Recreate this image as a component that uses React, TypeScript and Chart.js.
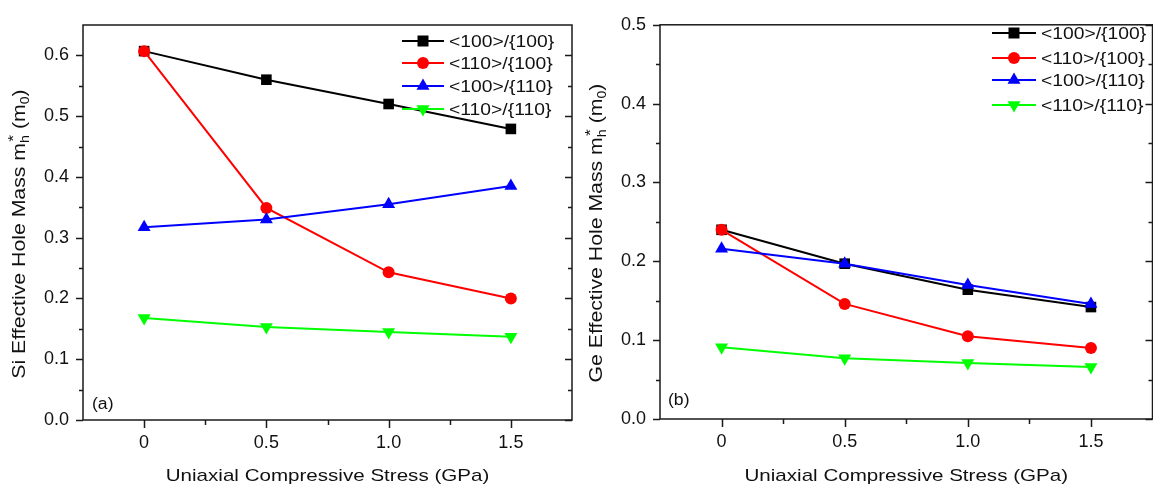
import React, { useEffect, useRef } from "react";
import { Chart, registerables } from "chart.js";

Chart.register(...registerables);

// ---------------- data ----------------
const stressGPa = [0, 0.5, 1.0, 1.5];
const seriesLabels = ["<100>/{100}", "<110>/{100}", "<100>/{110}", "<110>/{110}"];
const seriesColors = ["#000000", "#ff0000", "#0000ff", "#00ff00"];
const seriesMarkers = ["rect", "circle", "triangle", "triangleDown"];

const siMass100on100 = [0.607, 0.56, 0.52, 0.479];
const siMass110on100 = [0.607, 0.349, 0.243, 0.2];
const siMass100on110 = [0.317, 0.33, 0.355, 0.385];
const siMass110on110 = [0.168, 0.153, 0.145, 0.137];

const geMass100on100 = [0.24, 0.197, 0.164, 0.142];
const geMass110on100 = [0.24, 0.146, 0.105, 0.09];
const geMass100on110 = [0.216, 0.197, 0.17, 0.146];
const geMass110on110 = [0.091, 0.077, 0.071, 0.066];

const xTickValues = [0, 0.5, 1.0, 1.5];
const xTickLabels = ["0", "0.5", "1.0", "1.5"];
const xMinorTickValues = [0.25, 0.75, 1.25];
const siYTickValues = [0, 0.1, 0.2, 0.3, 0.4, 0.5, 0.6];
const siYMinorTickValues = [0.05, 0.15, 0.25, 0.35, 0.45, 0.55];
const geYTickValues = [0, 0.1, 0.2, 0.3, 0.4, 0.5];
const geYMinorTickValues = [0.05, 0.15, 0.25, 0.35, 0.45];
const xAxisTitle = "Uniaxial Compressive Stress (GPa)";

// ---------------- layout ----------------
const FONT = "'Liberation Sans', Arial, Helvetica, sans-serif";
const TEXT = "#111111";
const H = 489;

type PanelCfg = {
  canvasLeft: number;
  width: number;
  area: { left: number; top: number; right: number; bottom: number };
  xMin: number;
  xMax: number;
  yMax: number;
  yTicks: number[];
  yMinor: number[];
  series: number[][];
  material: string;
  yTitleX: number;
  yTitleCY: number;
  legend: { x0: number; xm: number; x1: number; tx: number; ys: number[] };
  tag: string;
  tagX: number;
  tagY: number;
  yTickPad: number;
};

const panels: PanelCfg[] = [
  {
    canvasLeft: 0,
    width: 580,
    area: { left: 83, top: 25, right: 572, bottom: 420 },
    xMin: -0.25,
    xMax: 1.75,
    yMax: 0.65,
    yTicks: siYTickValues,
    yMinor: siYMinorTickValues,
    series: [siMass100on100, siMass110on100, siMass100on110, siMass110on110],
    material: "Si",
    yTitleX: 25,
    yTitleCY: 234,
    legend: { x0: 402, xm: 423, x1: 444, tx: 449, ys: [41, 63, 86, 109] },
    tag: "(a)",
    tagX: 92,
    tagY: 409,
    yTickPad: 14,
  },
  {
    canvasLeft: 580,
    width: 580,
    area: { left: 80, top: 19, right: 575, bottom: 419 },
    xMin: -0.25,
    xMax: 1.75,
    yMax: 0.5,
    yTicks: geYTickValues,
    yMinor: geYMinorTickValues,
    series: [geMass100on100, geMass110on100, geMass100on110, geMass110on110],
    material: "Ge",
    yTitleX: 22,
    yTitleCY: 233,
    legend: { x0: 412, xm: 434, x1: 456, tx: 461, ys: [33, 58, 80, 105] },
    tag: "(b)",
    tagX: 88,
    tagY: 405,
    yTickPad: 14,
  },
];

function drawMarker(ctx: CanvasRenderingContext2D, kind: string, x: number, y: number, color: string) {
  ctx.save();
  ctx.fillStyle = color;
  ctx.beginPath();
  if (kind === "rect") {
    ctx.rect(x - 5.5, y - 5.5, 11, 11);
  } else if (kind === "circle") {
    ctx.arc(x, y, 6, 0, Math.PI * 2);
  } else if (kind === "triangle") {
    ctx.moveTo(x, y - 7.5);
    ctx.lineTo(x + 6.5, y + 3.75);
    ctx.lineTo(x - 6.5, y + 3.75);
    ctx.closePath();
  } else {
    ctx.moveTo(x, y + 7.5);
    ctx.lineTo(x + 6.5, y - 3.75);
    ctx.lineTo(x - 6.5, y - 3.75);
    ctx.closePath();
  }
  ctx.fill();
  ctx.restore();
}

// text drawn with a slight horizontal stretch, as in the reference's wide lettering
function drawWideText(
  ctx: CanvasRenderingContext2D,
  text: string,
  x: number,
  y: number,
  size: number,
  stretch: number,
  align: "left" | "center",
  baseline: CanvasTextBaseline
) {
  ctx.save();
  ctx.font = `${size}px ${FONT}`;
  ctx.fillStyle = TEXT;
  ctx.textBaseline = baseline;
  ctx.textAlign = "left";
  const w = ctx.measureText(text).width * stretch;
  const startX = align === "center" ? x - w / 2 : x;
  ctx.translate(startX, y);
  ctx.scale(stretch, 1);
  ctx.fillText(text, 0, 0);
  ctx.restore();
}

function drawYTitle(ctx: CanvasRenderingContext2D, material: string, x: number, cy: number) {
  const size = 18;
  const stretch = 1.18;
  const main = `${size}px ${FONT}`;
  const small = `12px ${FONT}`;
  const star = `15px ${FONT}`;
  ctx.save();
  ctx.translate(x, cy);
  ctx.rotate(-Math.PI / 2);
  ctx.scale(stretch, 1);
  ctx.fillStyle = TEXT;
  ctx.textBaseline = "alphabetic";
  ctx.textAlign = "left";
  const s1 = `${material} Effective Hole Mass m`;
  const s2 = " (m";
  const s3 = ")";
  ctx.font = main;
  const w1 = ctx.measureText(s1).width;
  const w2 = ctx.measureText(s2).width;
  const w3 = ctx.measureText(s3).width;
  ctx.font = small;
  const wh = ctx.measureText("h").width;
  const w0 = ctx.measureText("0").width;
  ctx.font = star;
  const ws = ctx.measureText("*").width;
  const wMid = Math.max(wh, ws + 1);
  const total = w1 + wMid + w2 + w0 + w3;
  let px = -total / 2;
  ctx.font = main;
  ctx.fillText(s1, px, 0);
  px += w1;
  ctx.font = small;
  ctx.fillText("h", px, 4);
  ctx.font = star;
  ctx.fillText("*", px + 1, -7);
  px += wMid;
  ctx.font = main;
  ctx.fillText(s2, px, 0);
  px += w2;
  ctx.font = small;
  ctx.fillText("0", px, 4);
  px += w0;
  ctx.font = main;
  ctx.fillText(s3, px, 0);
  ctx.restore();
}

function Panel({ cfg }: { cfg: PanelCfg }) {
  const ref = useRef<HTMLCanvasElement | null>(null);
  useEffect(() => {
    const canvas = ref.current;
    if (!canvas) return;
    const area = cfg.area;
    const decor = {
      id: "decor" + cfg.material,
      beforeDatasetsDraw(chart: any) {
        const ctx: CanvasRenderingContext2D = chart.ctx;
        const { left, right, top, bottom } = chart.chartArea;
        const xs = chart.scales.x;
        const ys = chart.scales.y;
        ctx.save();
        ctx.strokeStyle = "#1a1a1a";
        ctx.lineWidth = 1.5;
        ctx.strokeRect(left, top, right - left, bottom - top);
        ctx.beginPath();
        for (const v of xTickValues) {
          const p = Math.round(xs.getPixelForValue(v)) + 0.5;
          ctx.moveTo(p, bottom);
          ctx.lineTo(p, bottom + 8);
        }
        for (const v of xMinorTickValues) {
          const p = Math.round(xs.getPixelForValue(v)) + 0.5;
          ctx.moveTo(p, bottom);
          ctx.lineTo(p, bottom + 5);
        }
        for (const v of cfg.yTicks) {
          const p = Math.round(ys.getPixelForValue(v)) + 0.5;
          ctx.moveTo(left, p);
          ctx.lineTo(left - 7, p);
          ctx.moveTo(right, p);
          ctx.lineTo(right - 7, p);
        }
        for (const v of cfg.yMinor) {
          const p = Math.round(ys.getPixelForValue(v)) + 0.5;
          ctx.moveTo(left, p);
          ctx.lineTo(left - 4, p);
          ctx.moveTo(right, p);
          ctx.lineTo(right - 4, p);
        }
        ctx.stroke();
        ctx.restore();
      },
      afterDraw(chart: any) {
        const ctx: CanvasRenderingContext2D = chart.ctx;
        const { left, right } = chart.chartArea;
        ctx.save();
        // legend
        const lg = cfg.legend;
        seriesLabels.forEach((label, i) => {
          const y = lg.ys[i];
          ctx.strokeStyle = seriesColors[i];
          ctx.lineWidth = 2;
          ctx.beginPath();
          ctx.moveTo(lg.x0, y);
          ctx.lineTo(lg.x1, y);
          ctx.stroke();
          drawMarker(ctx, seriesMarkers[i], lg.xm, y, seriesColors[i]);
          drawWideText(ctx, label, lg.tx, y + 1, 16.5, 1.17, "left", "middle");
        });
        ctx.restore();
        // x title
        drawWideText(ctx, xAxisTitle, (left + right) / 2, 481, 17, 1.21, "center", "alphabetic");
        // panel tag
        drawWideText(ctx, cfg.tag, cfg.tagX, cfg.tagY, 16, 1.1, "left", "alphabetic");
        drawYTitle(ctx, cfg.material, cfg.yTitleX, cfg.yTitleCY);
      },
    };

    const chart = new Chart(canvas, {
      type: "line",
      data: {
        datasets: cfg.series.map((vals, i) => ({
          label: seriesLabels[i],
          data: stressGPa.map((x, k) => ({ x, y: vals[k] })),
          borderColor: seriesColors[i],
          backgroundColor: seriesColors[i],
          borderWidth: 2,
          pointStyle: seriesMarkers[i] === "triangleDown" ? "triangle" : seriesMarkers[i],
          pointRotation: seriesMarkers[i] === "triangleDown" ? 180 : 0,
          pointRadius: seriesMarkers[i] === "rect" ? 7.5 : seriesMarkers[i] === "circle" ? 6 : 7.5,
          pointBorderWidth: 0,
          pointBackgroundColor: seriesColors[i],
          pointBorderColor: seriesColors[i],
          tension: 0,
          fill: false,
          order: 4 - i,
          clip: false as any,
        })),
      },
      options: {
        responsive: false,
        animation: false,
        devicePixelRatio: 1,
        layout: {
          padding: { top: area.top, right: cfg.width - area.right, left: 0, bottom: 0 },
        },
        plugins: {
          legend: { display: false },
          tooltip: { enabled: false },
          title: { display: false },
        },
        scales: {
          x: {
            type: "linear",
            min: cfg.xMin,
            max: cfg.xMax,
            grid: { display: false, drawTicks: false, tickLength: 0 },
            border: { display: false },
            afterBuildTicks: (s: any) => {
              s.ticks = xTickValues.map((v) => ({ value: v }));
            },
            afterFit: (s: any) => {
              s.height = H - area.bottom;
            },
            ticks: {
              autoSkip: false,
              maxRotation: 0,
              padding: 12,
              color: TEXT,
              font: { family: FONT, size: 18 },
              callback: (v: any) => {
                const idx = xTickValues.findIndex((t) => Math.abs(t - Number(v)) < 1e-9);
                return idx >= 0 ? xTickLabels[idx] : "";
              },
            },
          },
          y: {
            type: "linear",
            min: 0,
            max: cfg.yMax,
            grid: { display: false, drawTicks: false, tickLength: 0 },
            border: { display: false },
            afterBuildTicks: (s: any) => {
              s.ticks = cfg.yTicks.map((v) => ({ value: v }));
            },
            afterFit: (s: any) => {
              s.width = area.left;
            },
            ticks: {
              autoSkip: false,
              padding: cfg.yTickPad,
              color: TEXT,
              font: { family: FONT, size: 18 },
              callback: (v: any) => Number(v).toFixed(1),
            },
          },
        },
      },
      plugins: [decor],
    } as any);
    return () => chart.destroy();
  }, [cfg]);
  return (
    <canvas
      ref={ref}
      width={cfg.width}
      height={H}
      style={{ position: "absolute", left: cfg.canvasLeft, top: 0, width: cfg.width, height: H }}
    />
  );
}

export default function App() {
  return (
    <div
      style={{
        position: "absolute",
        left: 0,
        top: 0,
        width: 1153,
        height: H,
        overflow: "hidden",
        background: "#ffffff",
      }}
    >
      {panels.map((p) => (
        <Panel key={p.material} cfg={p} />
      ))}
    </div>
  );
}
